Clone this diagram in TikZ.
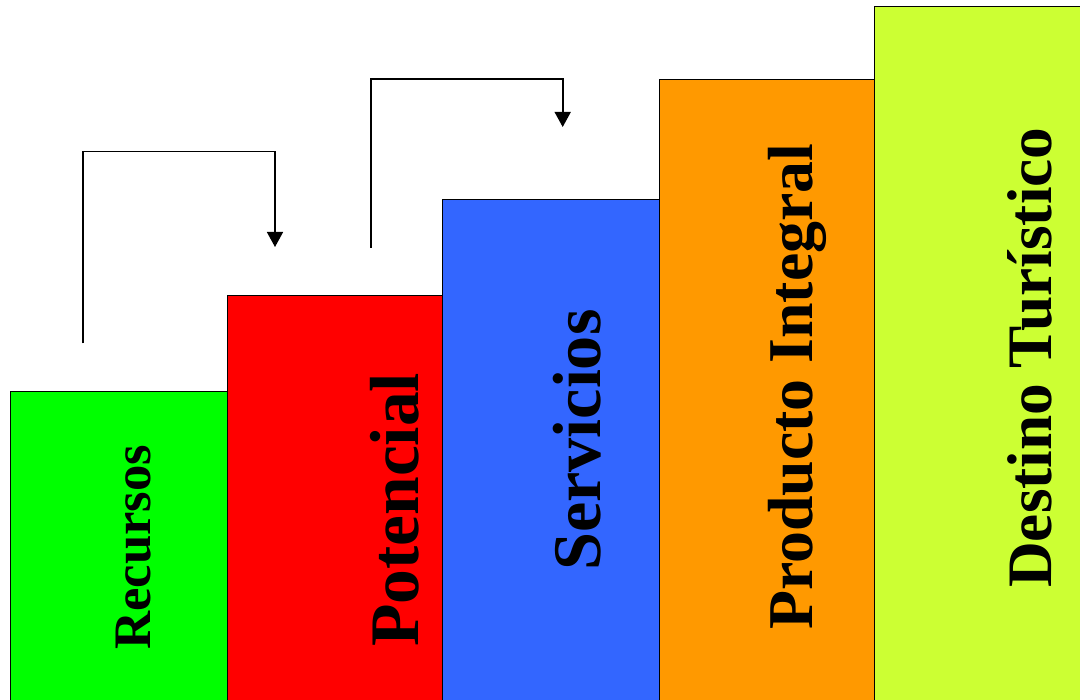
\documentclass[tikz,border=0pt]{standalone}
\usepackage{fontspec}
\setmainfont{Liberation Serif}
\usetikzlibrary{arrows.meta}
\definecolor{cgreen}{HTML}{00FF00}
\definecolor{cred}{HTML}{FF0000}
\definecolor{cblue}{HTML}{3366FF}
\definecolor{corange}{HTML}{FF9900}
\definecolor{cyell}{HTML}{CCFF33}
\tikzset{
  bar/.style={draw=black, line width=1pt},
  lbl/.style={rotate=90, anchor=base west, inner sep=0pt, font=\bfseries},
  arr/.style={draw=black, line width=1.6pt, -{Triangle[width=16pt,length=15pt]}}
}
\begin{document}
\begin{tikzpicture}[x=1pt,y=-1pt]
\useasboundingbox (0,0) rectangle (1080,700);
\clip (0,0) rectangle (1080,700);
\fill[white] (0,0) rectangle (1080,700);
% bars
\draw[bar, fill=cgreen]  (10.5,391.7) rectangle (227,705);
\draw[bar, fill=cred]    (227,295.5) rectangle (442.5,705);
\draw[bar, fill=cblue]   (442.5,199.5) rectangle (659,705);
\draw[bar, fill=corange] (659,79.5) rectangle (874.5,705);
\draw[bar, fill=cyell]   (874.5,7) rectangle (1085,705);
% labels
\node[lbl] (recursos) at (150,650) {\fontsize{52.7}{60}\selectfont Recursos};
\node[lbl] (potencial) at (418,647) {\fontsize{69.5}{76}\selectfont Potencial};
\node[lbl] (servicios) at (600,571) {\fontsize{68.2}{76}\selectfont Servicios};
\node[lbl] (producto) at (812,630) {\fontsize{63.8}{70}\selectfont Producto Integral};
\node[lbl] (destino) at (1051,588) {\fontsize{63.3}{70}\selectfont Destino Turístico};
% connectors
\coordinate (s1) at (82.7,343.5);
\coordinate (k1) at (275,151.7);
\coordinate (e1) at (275,247);
\coordinate (s2) at (370.7,248);
\coordinate (k2) at (562.7,79.3);
\coordinate (e2) at (562.7,127);
\draw[arr] (s1) |- (k1) -- (e1);
\draw[arr] (s2) |- (k2) -- (e2);
\end{tikzpicture}
\end{document}
